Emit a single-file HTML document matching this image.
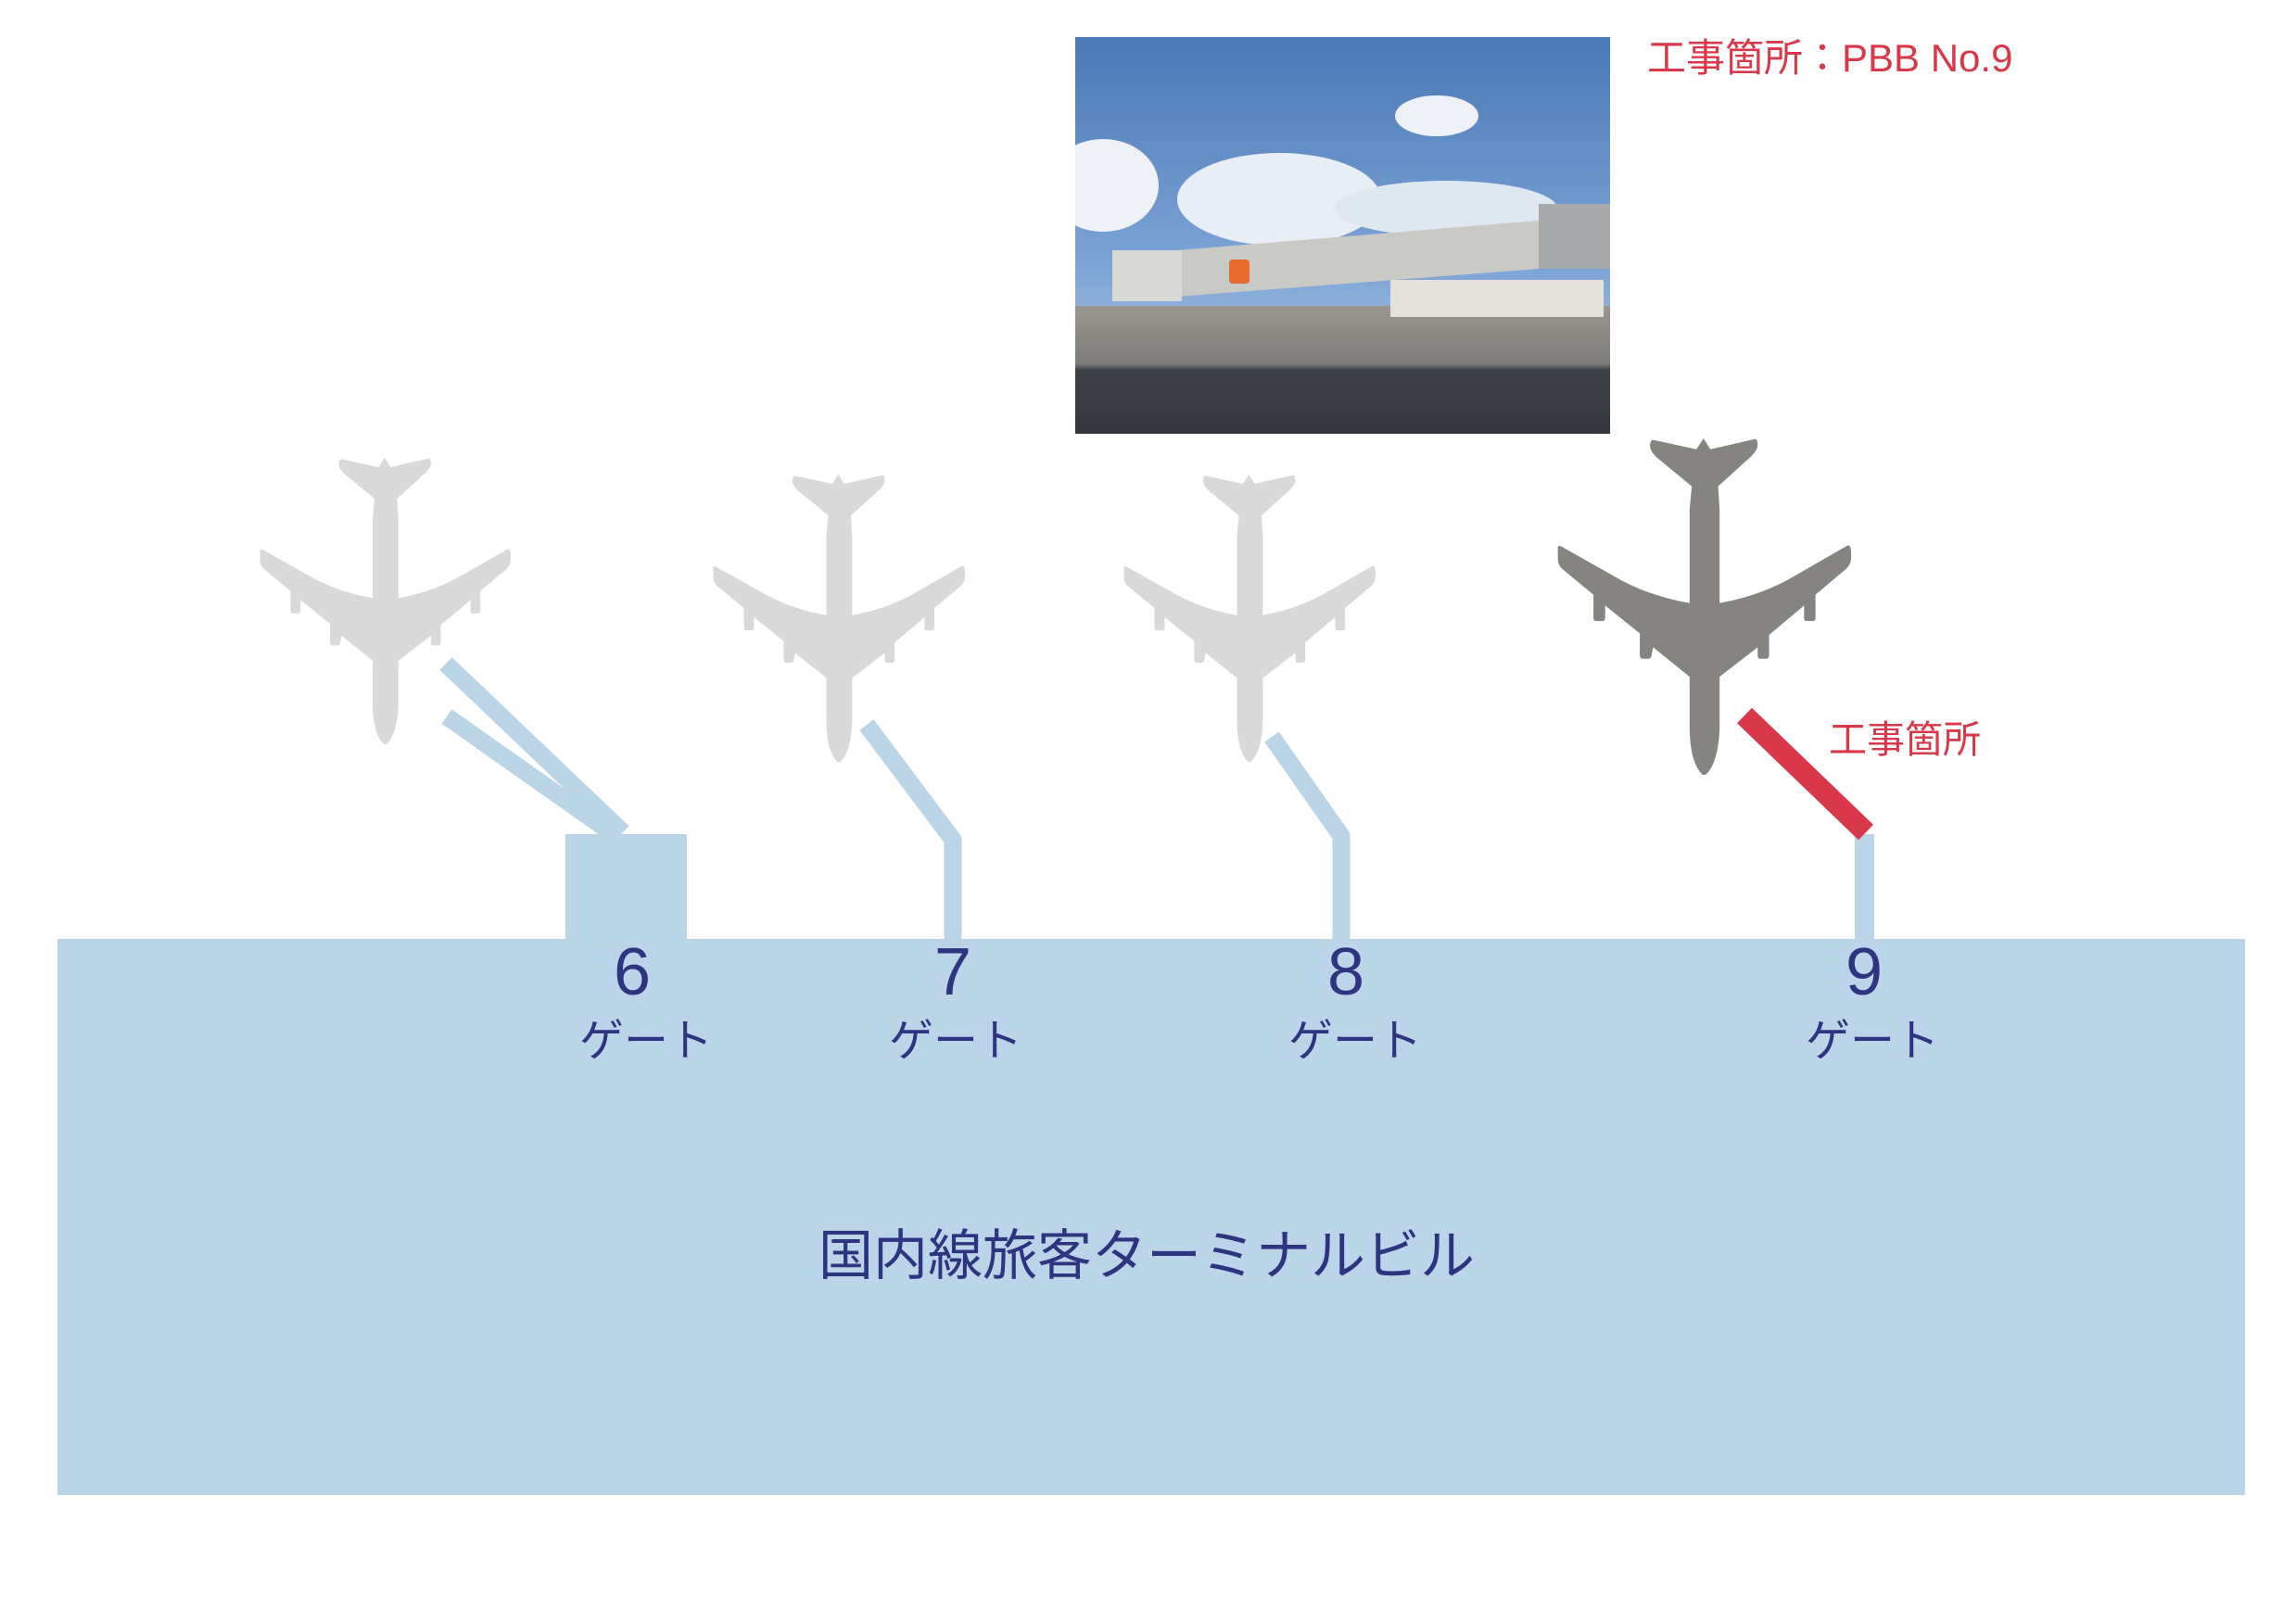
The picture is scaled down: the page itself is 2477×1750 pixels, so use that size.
<!DOCTYPE html>
<html><head><meta charset="utf-8"><style>
html,body{margin:0;padding:0;background:#fff}
svg{display:block}
text{font-family:"Liberation Sans","Noto Sans CJK JP",sans-serif}
</style></head><body>
<svg width="2477" height="1750" viewBox="0 0 2477 1750" xmlns="http://www.w3.org/2000/svg">
<defs>
<symbol id="plane" viewBox="120 100 950 1087" preserveAspectRatio="none">
<path d="M593,100 L615,135 L760,102 Q768,102 768,125 Q765,140 745,160 L640,255 L645,330 L645,632 Q760,612 860,560 L1060,445 Q1070,445 1070,470 L1070,490 Q1068,510 1050,525 L955,605 L955,680 Q955,690 945,690 L925,690 Q918,690 918,680 L918,640 L805,735 L805,800 Q805,812 795,812 L775,812 Q768,812 768,800 L768,775 L645,870 L645,1040 Q640,1150 600,1187 L590,1187 Q550,1150 548,1040 L548,870 L430,775 L425,800 Q425,812 412,812 L397,812 Q387,812 387,800 L387,730 L275,640 L275,680 Q275,690 265,690 L247,690 Q237,690 237,680 L237,605 L140,525 Q122,510 122,490 L122,450 Q124,445 135,450 L330,560 Q430,612 548,632 L548,330 L555,255 L440,160 Q420,140 420,125 Q420,105 430,105 L570,135 Z"/>
</symbol>
<linearGradient id="sky" x1="0" y1="0" x2="0" y2="1">
<stop offset="0" stop-color="#4a78b8"/><stop offset="0.6" stop-color="#7fa6d6"/><stop offset="1" stop-color="#c9d8e8"/>
</linearGradient>
<linearGradient id="gr" x1="0" y1="0" x2="0" y2="1">
<stop offset="0" stop-color="#9a9690"/><stop offset="0.45" stop-color="#7f7d7a"/><stop offset="0.5" stop-color="#3e4349"/><stop offset="1" stop-color="#33373d"/>
</linearGradient>
<clipPath id="pc"><rect width="577" height="428"/></clipPath>
</defs>

<rect x="62" y="1013" width="2360" height="600" fill="#bbd5e8"/>
<rect x="610" y="900" width="131" height="114" fill="#bbd5e8"/>
<line x1="481" y1="716" x2="672" y2="898" stroke="#bbd5e8" stroke-width="19"/>
<line x1="482" y1="773" x2="662" y2="900" stroke="#bbd5e8" stroke-width="19"/>
<polyline points="935,782 1028,906 1028,1014" fill="none" stroke="#bbd5e8" stroke-width="19"/>
<polyline points="1372,795 1447,902 1447,1014" fill="none" stroke="#bbd5e8" stroke-width="19"/>
<rect x="2001" y="900" width="21" height="114" fill="#bbd5e8"/>
<line x1="1882" y1="772" x2="2013" y2="898" stroke="#d9374a" stroke-width="23"/>

<use href="#plane" x="280" y="494" width="271" height="309" fill="#d9d9d9"/>
<use href="#plane" x="769" y="512" width="272" height="310" fill="#d9d9d9"/>
<use href="#plane" x="1212" y="512" width="272" height="310" fill="#d9d9d9"/>
<use href="#plane" x="1680" y="473" width="317" height="363" fill="#858480"/>

<g transform="translate(1160,40)">
<g clip-path="url(#pc)">
<rect width="577" height="428" fill="url(#sky)"/>
<ellipse cx="30" cy="160" rx="60" ry="50" fill="#eef2f7"/>
<ellipse cx="220" cy="175" rx="110" ry="50" fill="#e8eef6"/>
<ellipse cx="400" cy="185" rx="120" ry="30" fill="#dfe7f1"/>
<ellipse cx="390" cy="85" rx="45" ry="22" fill="#eef2f7"/>
<rect x="0" y="290" width="577" height="138" fill="url(#gr)"/>
<rect x="340" y="262" width="230" height="40" fill="#e4e1da"/>
<polygon points="110,230 500,198 500,250 110,280" fill="#c9c9c6"/>
<rect x="40" y="230" width="75" height="55" fill="#d8d8d6"/>
<rect x="500" y="180" width="77" height="70" fill="#a8a9ab"/>
<rect x="166" y="240" width="22" height="26" rx="4" fill="#e86a2c"/>
</g>
</g>

<text x="1777" y="77" font-size="42" fill="#d9374a">工事箇所：PBB No.9</text>
<text x="1973" y="812" font-size="41" fill="#d9374a">工事箇所</text>

<g fill="#2e3580" text-anchor="middle">
<text x="682" y="1073" font-size="72">6</text>
<text x="1028" y="1073" font-size="72">7</text>
<text x="1452" y="1073" font-size="72">8</text>
<text x="2011" y="1073" font-size="72">9</text>
<text x="697" y="1139" font-size="48">ゲート</text>
<text x="1031" y="1139" font-size="48">ゲート</text>
<text x="1462" y="1139" font-size="48">ゲート</text>
<text x="2020" y="1139" font-size="48">ゲート</text>
<text x="1237" y="1375" font-size="59">国内線旅客ターミナルビル</text>
</g>
</svg>
</body></html>
